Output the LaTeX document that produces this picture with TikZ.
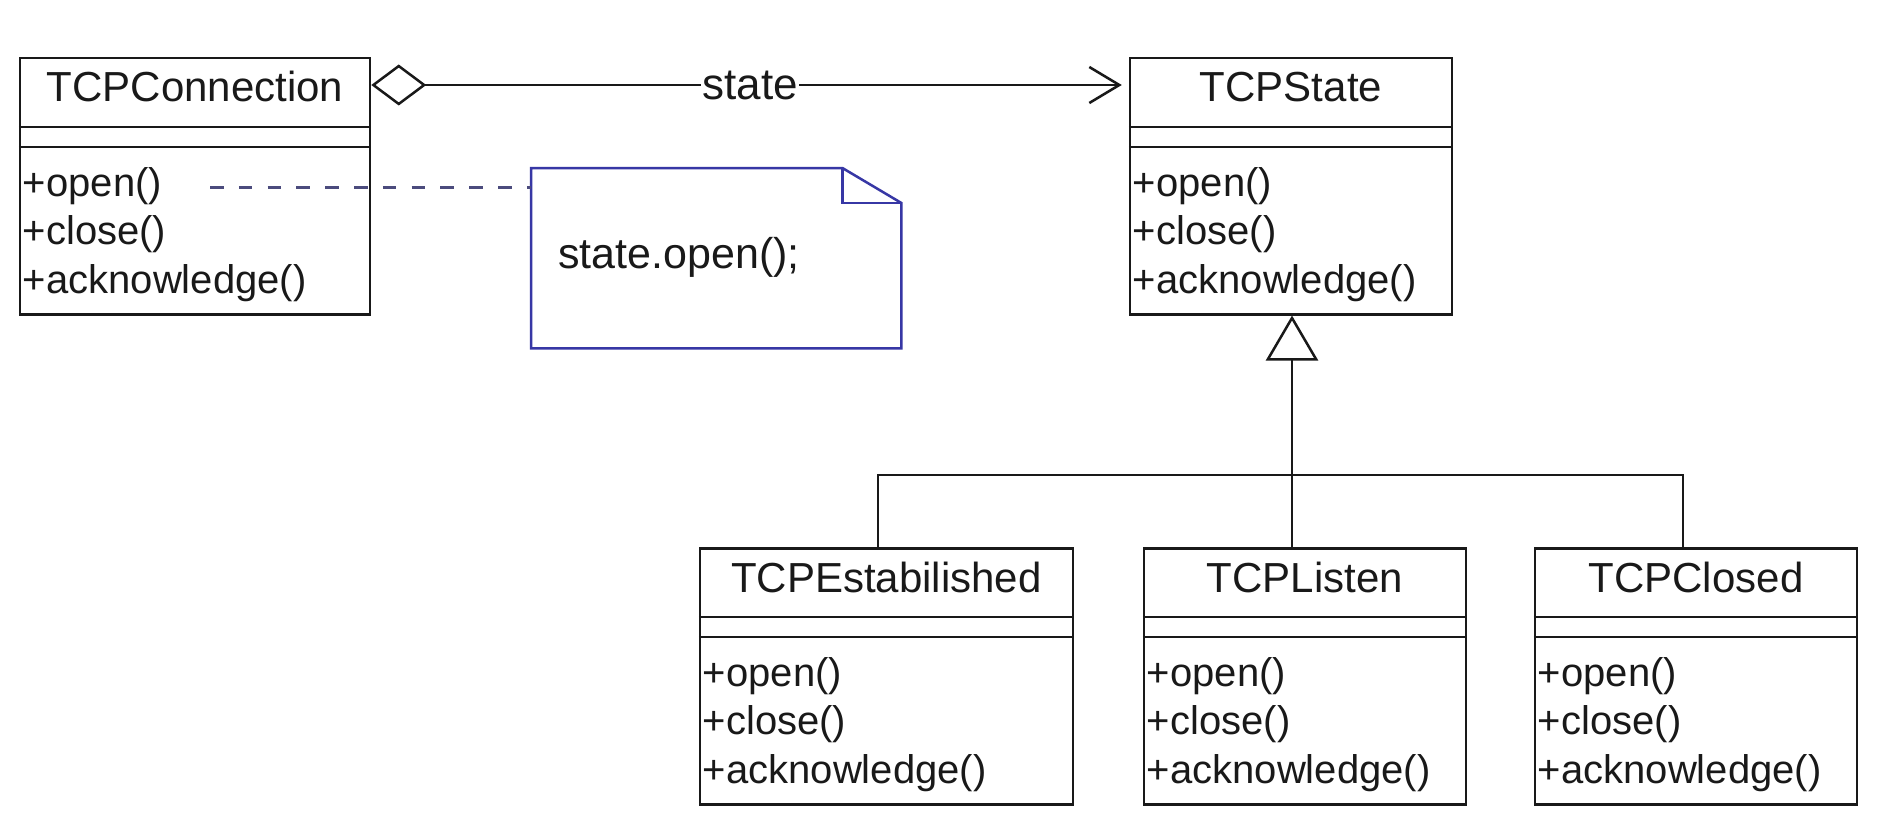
\documentclass[tikz,border=0pt]{standalone}
\usepackage{fontspec}
\setmainfont{Liberation Sans}
\usetikzlibrary{arrows.meta,calc}
\definecolor{inkc}{RGB}{25,25,25}
\definecolor{notec}{RGB}{55,55,165}
\definecolor{dashc}{RGB}{75,75,125}
\tikzset{
  ln/.style={line width=2.5pt, draw=inkc},
  clsbox/.style={ln, rectangle, inner sep=0pt, fill=white},
  titletxt/.style={inner sep=0pt, text=inkc, font=\fontsize{42}{48}\selectfont},
  methtxt/.style={inner sep=0pt, text=inkc, font=\fontsize{40}{46}\selectfont},
  notetxt/.style={inner sep=0pt, text=inkc, font=\fontsize{43}{48}\selectfont},
  noteln/.style={line width=2.5pt, draw=notec, line join=miter},
  dashln/.style={line width=3pt, draw=dashc, dash pattern=on 13.5pt off 15.3pt},
}
\newcommand{\umlclass}[5]{% name, center x, top y, width, title
  \node[clsbox, minimum width=#4pt, minimum height=256pt, anchor=north] (#1) at (#2,#3) {};
  \draw[ln] ([yshift=-70pt]#1.north west) -- ([yshift=-70pt]#1.north east);
  \draw[ln] ([yshift=-90pt]#1.north west) -- ([yshift=-90pt]#1.north east);
  \node[titletxt, anchor=base] (#1-t) at ([yshift=-45pt]#1.north) {#5};
  \node[methtxt, anchor=base west] (#1-m1) at ([xshift=4pt,yshift=-139pt]#1.north west) {+open()};
  \node[methtxt, anchor=base west] (#1-m2) at ([xshift=4pt,yshift=-187pt]#1.north west) {+close()};
  \node[methtxt, anchor=base west] (#1-m3) at ([xshift=4pt,yshift=-236pt]#1.north west) {+acknowledge()};
}
\begin{document}
\begin{tikzpicture}[x=1pt,y=-1pt]
\useasboundingbox[fill=white] (0,0) rectangle (1884,832);

% classes
\umlclass{conn}{195}{57}{350}{TCPConnection}
\umlclass{state}{1291}{57}{322}{TCPState}
\umlclass{est}{886.5}{547}{373}{TCPEstabilished}
\umlclass{lis}{1305}{547}{322}{TCPListen}
\umlclass{clo}{1696}{547}{322}{TCPClosed}

% note
\node[minimum width=370pt, minimum height=180pt, inner sep=0pt, anchor=north west] (note) at (531,168) {};
\draw[noteln] (note.north west) -- ([xshift=-59pt]note.north east) -- ([yshift=-35pt]note.north east)
  -- (note.south east) -- (note.south west) -- cycle;
\draw[noteln] ([xshift=-59pt]note.north east) |- ([yshift=-35pt]note.north east);
\node[notetxt, anchor=base west] (notet) at (558,268) {state.open();};

% dashed anchor line
\coordinate (dstart) at (210,187);
\draw[dashln] (dstart) -- (dstart -| note.west);

% association
\draw[ln, {Diamond[open, length=55pt, width=41pt]}-{Straight Barb[length=30pt, width=36pt]}, shorten >=7pt]
  ([yshift=-28pt]conn.north east) -- ([yshift=-28pt]state.north west)
  node[pos=0.5, anchor=base, yshift=-15pt, fill=white, inner xsep=1pt, inner ysep=2pt, text=inkc,
       font=\fontsize{44}{48}\selectfont] (lbl) {state};

% generalization
\coordinate (bus) at (1292,475);
\draw[ln, -{Triangle[open, length=45pt, width=52pt]}] (bus) -- (bus |- state.south);
\draw[ln] (bus) -- (bus |- lis.north);
\draw[ln] (bus) -| ([xshift=-8.5pt]est.north);
\draw[ln] (bus) -| ([xshift=-13pt]clo.north);
\end{tikzpicture}
\end{document}
